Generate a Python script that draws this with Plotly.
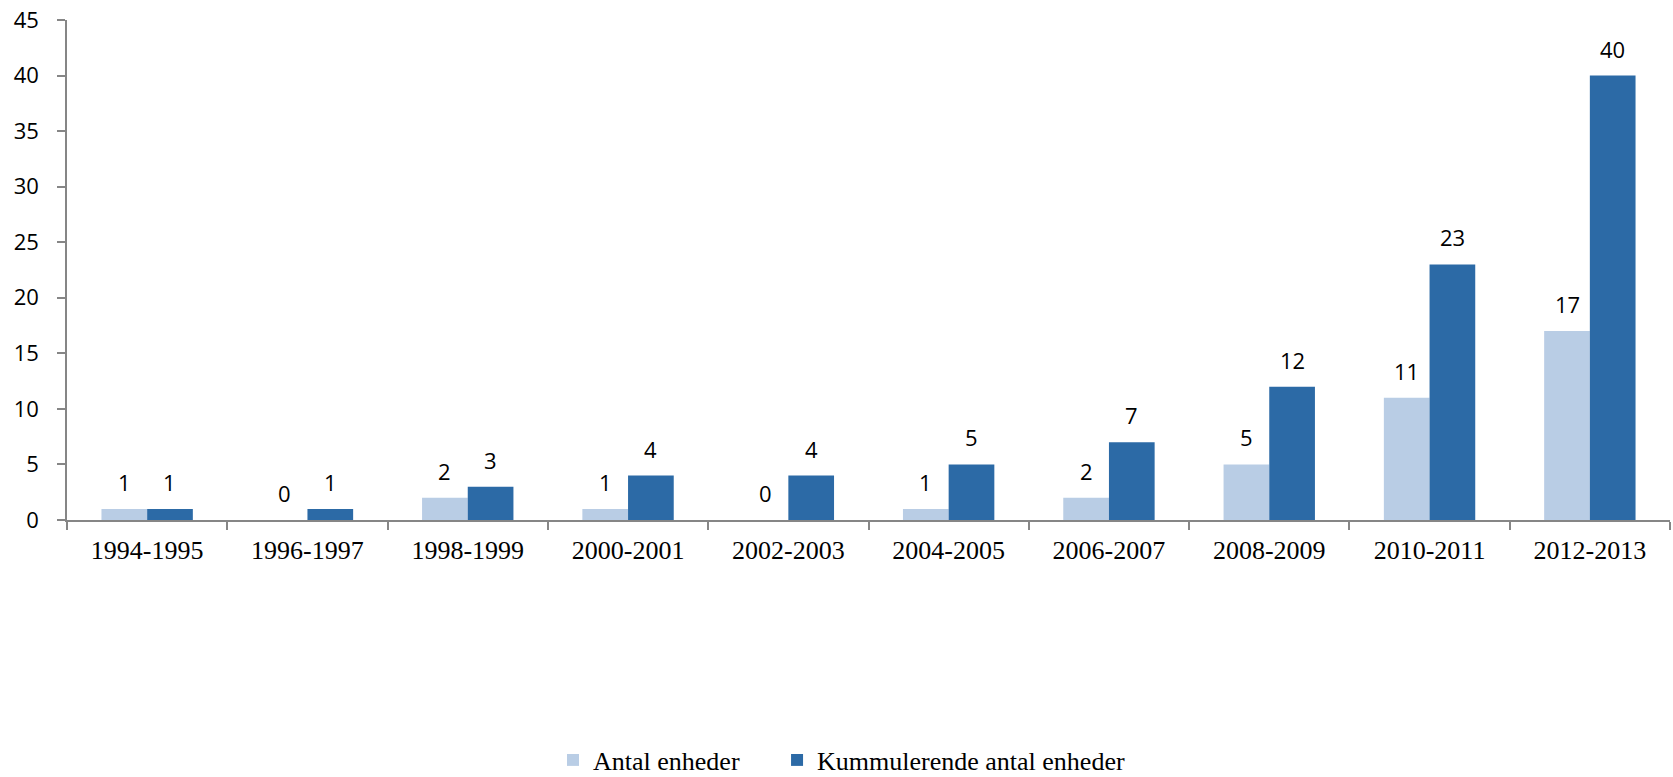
import plotly.graph_objects as go

categories = ["1994-1995", "1996-1997", "1998-1999", "2000-2001", "2002-2003",
              "2004-2005", "2006-2007", "2008-2009", "2010-2011", "2012-2013"]
antal = [1, 0, 2, 1, 0, 1, 2, 5, 11, 17]
kummulerende = [1, 1, 3, 4, 4, 5, 7, 12, 23, 40]
series_names = ["Antal enheder", "Kummulerende antal enheder"]
series_colors = ["#B9CDE5", "#2C6AA6"]
y_ticks = list(range(0, 46, 5))

W, H = 1673, 777
ML, MR, MT, MB = 67, 3, 20, 257
BARGAP = 0.43

fig = go.Figure()
for i, (name, vals, col) in enumerate(zip(series_names, [antal, kummulerende], series_colors)):
    # extra non-breaking spaces after the first entry widen the gap between legend items
    label = name + ("\u00a0" * 5 if i == 0 else "")
    fig.add_trace(go.Bar(x=categories, y=vals, name=label,
                         marker=dict(color=col, line=dict(width=0))))

# data labels above each bar
plot_w = W - ML - MR
plot_h = H - MT - MB
cat_w = plot_w / len(categories)
bar_w = cat_w * (1 - BARGAP) / 2
for si, vals in enumerate([antal, kummulerende]):
    shift = (si - 0.5) * bar_w
    for c, v in zip(categories, vals):
        fig.add_annotation(x=c, y=v, text=str(v), showarrow=False,
                           xshift=shift, yshift=27, yanchor="middle",
                           font=dict(family="Open Sans", size=22, color="#000000"))

fig.update_layout(
    width=W, height=H,
    margin=dict(l=ML, r=MR, t=MT, b=MB, autoexpand=False),
    paper_bgcolor="white", plot_bgcolor="white",
    barmode="group", bargap=BARGAP, bargroupgap=0,
    showlegend=True,
    legend=dict(orientation="h", x=(553 - ML) / plot_w, xanchor="left",
                y=-(760 - (H - MB)) / plot_h, yanchor="middle",
                font=dict(family="Liberation Serif", size=26, color="#000000"),
                itemwidth=30, tracegroupgap=0, bgcolor="rgba(0,0,0,0)"),
    xaxis=dict(type="category", showline=True, linecolor="#868686", linewidth=1.5,
               ticks="outside", ticklen=8, tickcolor="#868686", tickwidth=1.5,
               tickson="boundaries", showgrid=False, zeroline=False,
               tickfont=dict(family="Liberation Serif", size=26, color="#000000"),
               ticklabelstandoff=6),
    yaxis=dict(range=[0, 45], tickvals=y_ticks, showline=True, linecolor="#868686",
               linewidth=1.5, ticks="outside", ticklen=8, tickcolor="#868686",
               tickwidth=1.5, showgrid=False, zeroline=False,
               tickfont=dict(family="Open Sans", size=22, color="#000000"),
               ticklabelstandoff=14),
)

fig.write_html("out.html")
